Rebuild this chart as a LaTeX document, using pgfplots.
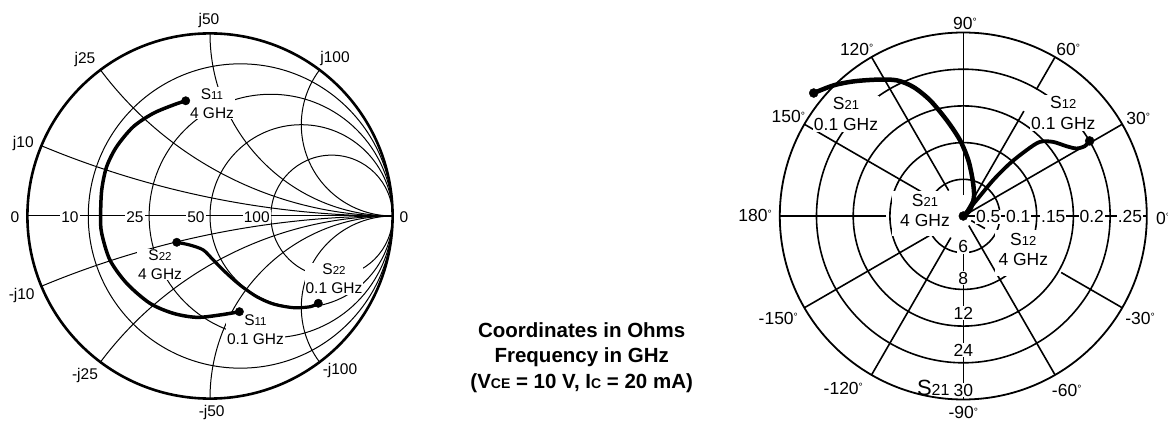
\documentclass[border=0pt]{standalone}
\usepackage{pgfplots}
\pgfplotsset{compat=1.18}
\usepackage{fontspec}
\setmainfont{Liberation Sans}
\newcommand{\dg}{{\fontsize{10.5}{10.5}\selectfont\raisebox{3.5pt}{°}}}
\newcommand{\Sx}[1]{S{\fontsize{11.5}{11.5}\selectfont #1}}
\newcommand{\Sy}[1]{S{\fontsize{13}{13}\selectfont #1}}
\begin{document}
\begin{tikzpicture}[x=1pt,y=1pt, every node/.style={font=\fontsize{15.5}{19}\selectfont, inner sep=1pt},
  pl/.style={font=\fontsize{17.5}{21.5}\selectfont}]
\useasboundingbox (0,0) rectangle (1168,421);
% ---------------- Smith chart grid ----------------
\begin{scope}[shift={(210,205)}, x=182.6pt, y=182.6pt, line width=1pt]
\draw (-1,0) -- (1,0);
\foreach \c/\r in {0.16667/0.83333, 0.33333/0.66667, 0.5/0.5, 0.66667/0.33333}
  \draw (\c,0) circle[radius=\r];
\draw (-0.92308,0.38462) arc[start angle=247.38, end angle=270, radius=5];
\draw (-0.6,0.8) arc[start angle=216.87, end angle=270, radius=2];
\draw (0,1) arc[start angle=180, end angle=270, radius=1];
\draw (0.6,0.8) arc[start angle=143.13, end angle=270, radius=0.5];
\draw (-0.92308,-0.38462) arc[start angle=112.62, end angle=90, radius=5];
\draw (-0.6,-0.8) arc[start angle=143.13, end angle=90, radius=2];
\draw (0,-1) arc[start angle=180, end angle=90, radius=1];
\draw (0.6,-0.8) arc[start angle=216.87, end angle=90, radius=0.5];
\end{scope}
% ---------------- Polar grid ----------------
\begin{scope}[shift={(963.3,205)}, x=36.7pt, y=36.7pt, line width=1.6pt]
\foreach \r in {1,2,3,4} \draw (0,0) circle[radius=\r];
\foreach \a/\s in {0/0, 30/0, 90/0.57, 120/0.8, 150/1.05, 180/2.1, -150/1.07, -120/0.68, -90/0.9, -60/0.3}
  \draw (\a:\s) -- (\a:5);
\draw (60:0) -- (60:3.3); \draw (60:3.98) -- (60:5);
\draw (-30:0.25) -- (-30:0.68); \draw (-30:3.08) -- (-30:5);
\end{scope}
% ---------------- Smith labels ----------------
\node at (209,400.3) {j50};
\node at (85,361.7) {j25};
\node at (335,362.7) {j100};
\node at (23.3,277.7) {j10};
\node at (15,204.3) {0};
\node[fill=white] at (70,204.3) {10};
\node[fill=white] at (135,204.3) {25};
\node[fill=white] at (196,204.3) {50};
\node[fill=white] at (256.7,204.3) {100};
\node at (404,204.3) {0};
\node at (21.7,126) {-j10};
\node at (85,46) {-j25};
\node at (211.7,8.5) {-j50};
\node at (340,51) {-j100};
\node[fill=white, align=center] at (212,317.7) {\Sx{11}\\4 GHz};
\node[fill=white, align=center] at (160,156.5) {\Sx{22}\\4 GHz};
\node[fill=white, align=center] at (334,142) {\Sx{22}\\0.1 GHz};
\node[fill=white, align=center] at (255.5,91.7) {\Sx{11}\\0.1 GHz};
\draw[line width=2.6pt] (210,205) circle[radius=182.6];
% ---------------- Polar labels ----------------
\fill[white] (892,185) rectangle (956,230);
\fill[white] (995,145) rectangle (1052,191);
\node[pl] at (965,397.7) {90\dg};
\node[pl] at (856.7,371.7) {120\dg};
\node[pl] at (1068.3,371.7) {60\dg};
\node[pl] at (788.3,304.3) {150\dg};
\node[pl] at (1138.3,302.7) {30\dg};
\node[pl] at (755,206) {180\dg};
\node[pl, anchor=west] at (1155,202.7) {0\dg};
\node[pl] at (778.3,102.7) {-150\dg};
\node[pl] at (1140,102.7) {-30\dg};
\node[pl] at (843.3,32.7) {-120\dg};
\node[pl] at (1066.7,31) {-60\dg};
\node[pl] at (963.3,8.5) {-90\dg};
\node[pl, fill=white] at (988.3,204.3) {0.5};
\node[pl, fill=white] at (1018.3,204.3) {0.1};
\node[pl, fill=white] at (1053.3,204.3) {.15};
\node[pl, fill=white] at (1091.7,204.3) {0.2};
\node[pl, fill=white] at (1130,204.3) {.25};
\node[pl, fill=white] at (963.3,174.3) {6};
\node[pl, fill=white] at (963.3,142.7) {8};
\node[pl, fill=white] at (963.3,107.7) {12};
\node[pl, fill=white] at (963.3,71) {24};
\node[pl, fill=white] at (963.3,31) {30};
\node at (933.3,32.7) {\fontsize{22}{22}\selectfont S{\fontsize{16}{16}\selectfont 21}};
\node[pl, fill=white, align=center] at (846,306.8) {\Sy{21}\\0.1 GHz};
\node[pl, fill=white, align=center] at (1063.3,308.1) {\Sy{12}\\0.1 GHz};
\node[align=center, font=\fontsize{17.5}{20}\selectfont] at (925,211) {\Sy{21}\\4 GHz};
\node[align=center, font=\fontsize{17.5}{20}\selectfont] at (1023.3,171.3) {\Sy{12}\\4 GHz};
\draw[line width=1.8pt] (963.3,205) circle[radius=183.5];
% ---------------- Centre text ----------------
\node[align=center, font=\bfseries\fontsize{20.5}{25.8}\selectfont] at (581.7,63.5)
  {Coordinates in Ohms\\Frequency in GHz\\(V{\fontsize{14}{14}\selectfont CE} = 10 V, I{\fontsize{14}{14}\selectfont C} = 20 mA)};
% ---------------- Smith traces ----------------
\begin{axis}[at={(210pt,205pt)}, anchor=center, x=182.6pt, y=182.6pt,
  xmin=-1, xmax=1, ymin=-1, ymax=1, hide axis, clip=false, enlargelimits=false]
\addplot[black, line width=3.5pt, smooth, tension=0.5, line cap=round] table {
x y
-0.133 0.631
-0.201 0.608
-0.311 0.562
-0.420 0.489
-0.511 0.380
-0.566 0.270
-0.593 0.142
-0.599 -0.004
-0.593 -0.095
-0.548 -0.241
-0.456 -0.369
-0.329 -0.478
-0.201 -0.533
-0.073 -0.555
0.055 -0.542
0.161 -0.524
};
\addplot[black, line width=3.2pt, smooth, tension=0.5, line cap=round] table {
x y
-0.182 -0.144
-0.110 -0.159
-0.037 -0.186
0.018 -0.241
0.091 -0.314
0.164 -0.378
0.256 -0.442
0.347 -0.482
0.456 -0.502
0.548 -0.497
0.593 -0.478
};
\addplot[black, only marks, mark=*, mark size=4.2pt] coordinates {(-0.133,0.631) (0.161,-0.524) (-0.182,-0.144) (0.593,-0.478)};
\end{axis}
% ---------------- Polar traces ----------------
\begin{axis}[at={(963.3pt,205pt)}, anchor=center, x=36.7pt, y=36.7pt,
  xmin=-5, xmax=5, ymin=-5, ymax=5, hide axis, clip=false, enlargelimits=false]
\addplot[black, line width=4.5pt, smooth, tension=0.5, line cap=round] table {
x y
-4.076 3.351
-3.533 3.560
-2.989 3.668
-2.353 3.715
-1.810 3.696
-1.359 3.514
-0.905 3.152
-0.451 2.609
-0.090 2.065
0.136 1.522
0.255 0.978
0.291 0.524
0.182 0.163
0 0
};
\addplot[black, line width=3.8pt, smooth, tension=0.5, line cap=round] table {
x y
0 0
0.364 0.435
0.815 0.978
1.269 1.432
1.723 1.793
2.084 2.019
2.446 2.019
2.810 1.902
3.082 1.840
3.307 1.902
3.443 2.046
};
\addplot[black, only marks, mark=*, mark size=4.5pt] coordinates {(-4.076,3.351) (0,0) (3.443,2.046)};
\end{axis}
\end{tikzpicture}
\end{document}
